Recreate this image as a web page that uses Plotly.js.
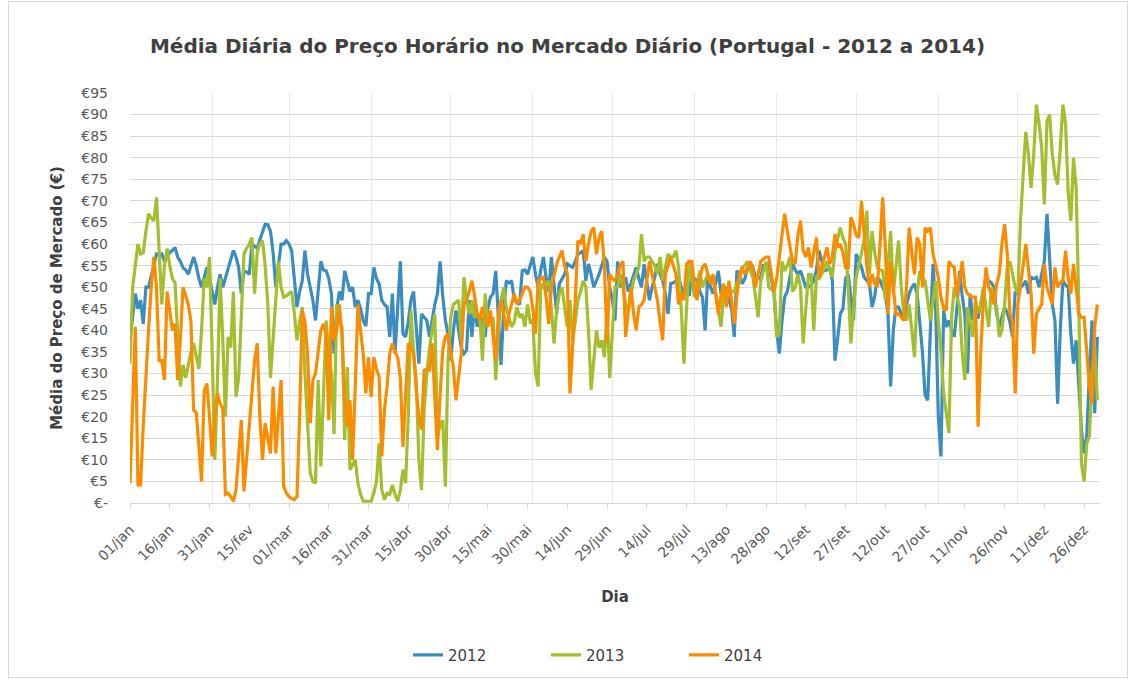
<!DOCTYPE html>
<html><head><meta charset="utf-8">
<script src="https://cdn.plot.ly/plotly-3.0.1.min.js"></script>
<style>
html,body{margin:0;padding:0;background:#fff;}
#wrap{position:relative;width:1135px;height:683px;}
#chart{position:absolute;left:0;top:0;width:1135px;height:683px;}
#frame{position:absolute;left:8px;top:1px;width:1118px;height:675px;border:1px solid #d9d9d9;pointer-events:none;}
</style></head>
<body><div id="wrap"><div id="chart"></div><div id="frame"></div></div>
<script>
const tickLabels = ["01/jan","16/jan","31/jan","15/fev","01/mar","16/mar","31/mar","15/abr","30/abr","15/mai","30/mai","14/jun","29/jun","14/jul","29/jul","13/ago","28/ago","12/set","27/set","12/out","27/out","11/nov","26/nov","11/dez","26/dez"];
const tickDays = [0,15,30,45,60,75,90,105,120,135,150,165,180,195,210,225,240,255,270,285,300,315,330,345,360];
const monthStartDays = [0,31,60,91,121,152,182,213,244,274,305,335];
const yTicks = [0,5,10,15,20,25,30,35,40,45,50,55,60,65,70,75,80,85,90,95];
const yTickText = ["€-","€5","€10","€15","€20","€25","€30","€35","€40","€45","€50","€55","€60","€65","€70","€75","€80","€85","€90","€95"];

const p2012 = [
37.7,43,48.5,45,47,41.5,50,50,52.3,55,
57.7,57.5,57.7,56,57,58,58.5,59.2,57,56,
54.5,54,53,55,57,55,52,50,52,54.6,
52,49,46,50,53,50,52,54,56,58.5,
57,54.6,48.5,53.8,53.5,53,60,59.5,59,61,
63,64.6,64.5,63,58,50,55,60,60,60.8,
60,58.5,52,45.4,49,51.5,58.5,53,50,47,
42.3,50,56,54,53.8,52,48.5,34.6,45,49,
47,53.8,51,49,50,45.4,47,45,42.3,41,
48.5,48.5,54.6,52,50.8,47,46,45.4,38.5,48.5,
34.6,45,56,39.2,38.5,42,47,49,40,32.3,
43.8,43,42.3,38.5,42.3,46,48.5,56,48,42.3,
39.2,33,40,44.6,40,36,34.6,35.4,47,38.5,
46,40.8,43.8,42,38.5,45,47.7,48.5,53.8,42.3,
32,45,51.5,51,51.5,47,46.5,46,53.8,54,
53,55,57,53,50,54,57,52.3,49,57,
50,43.8,50.8,52,53,55.4,55,54.6,56,57.7,
58,58.5,51.5,55.4,53,50,51.5,53,55,57,
56,50,47,42.3,56,50,51,52.3,49,51,
53,54.6,52,50,55.4,51,47,50,52.3,55.4,
53,51.5,48.5,43.8,50.8,51,51.5,52.3,50,48.5,
50.8,48,53,52,51.5,49,47.7,40,53,50,
48.5,51,53.8,48.5,49,50,47,45,38.5,53.8,
53,50.8,52,54.6,54,54.6,52.3,52,52.3,55,
55,55.4,52,48.5,40,34.6,42,47.7,49,52,
55.4,54,53,53.8,52,50,50,50.5,51.5,54,
58.5,56,53.8,54,54.6,51.5,33,38,43.8,45,
52,53,47,42.3,57.7,56,54.6,52.3,51.5,50.8,
45.4,48,52.3,51.5,50,48.5,43.8,27,40,45.4,
45.4,44,42.3,46,48.5,50,50.8,48.5,42.3,35,
25,23.8,40,55.4,45,20,10.8,44.6,40.8,42.3,
40,38.5,45,53.8,48,43.8,30,48.5,42.3,43,
43,46,48.5,52.3,51.5,51,50,43.8,40.8,43,
45.4,44,42,38.5,49,48.5,50,50.5,51.5,48.5,
52.3,52,52.3,50,53,56,67,55,46,42.3,
23,40,51.5,50.5,50,39.2,32.3,37.7,26.2,17,
11.5,15.4,30,42.3,20.8,38.5];

const p2013 = [
32.3,50,55,60,57.7,58,63,67,66,65.4,
70.8,58,46,55,59,55,52,51,40,27,
32,29,32,35,37,34,31,40,52,50,
57,35,10,28.5,52,38,20,38.5,36,49,
24.6,29,42,57.7,59,60,61.5,48.5,58,60,
60.8,55,46,29,38,48,56,50,47.7,48,
48.5,49,44,37.7,42,45.4,30,19.2,7,5,
4.6,28.5,8.5,25,42.3,34.6,30,16,46,42,
40.8,14.6,31.5,7.7,9,10,4.6,2,0.4,0.4,
0.4,0.4,2.3,5,13.8,3,0.8,2.3,2,4.2,
2,0.4,3,7.7,4.6,20,44.6,35,28.5,10,
3,21.5,30,36,40,43.8,15.4,18,19.2,3.8,
33,43,46,46.5,47,37.7,52.3,47,43.8,47,
43,44,43,33,48.5,42.3,42.3,43,28.5,40,
47,50,45,43,40.8,42,45.4,43,43.8,40.8,
46,42,42.3,30,27,50.8,50,50.5,51.5,45,
37,45,48.5,50,45,40.8,47,37.7,42,47,
49,51.5,50,40,26.2,33,40,36,37.7,33.8,
45,29,40.8,50,50,53,50,46,44.6,48,
51.5,53,54.6,62.3,56,57,57,56,55,53,
57,51.5,55,57.7,57,57,58.5,54.6,45,32.3,
45.4,56,52,47.7,50,53.8,50,51.5,53,52,
51.5,48.5,45,40.8,48.5,49,50,49,49,51,
51.5,54.6,55,56,54,52.3,48,43,51.5,54,
56,50,49.5,49,38.5,39.2,56,53.8,55,57,
49,50,53,50,37,45,53,53,40,52.3,
52,53,54.6,56,54,52.3,58.5,61,63.8,61.5,
60,50,37,45,52.3,55,58,60.8,67.7,53,
63,58,54.6,54,53.8,47,55,63,48.5,55,
60.8,50,43.8,42.3,46,40,33.8,48.5,53.8,52,
51.5,47,42.3,47,51.5,42.3,35,25.4,20,16.2,
43,50,48,45.4,35,28.5,45.4,42,38.5,47,
44,46,50,45,40.8,50,47,45.4,38.5,40,
46,54.6,56,53,50,48.5,65.4,76,86,80.8,
73,80.8,92.3,88,82.3,69.2,88.5,90,80.8,76,
73.8,82,92.3,88,72,65.4,80,73,46,9.2,
5,13.8,15.4,30,36,23.8];

const p2014 = [
4.6,25,40.8,4.2,4.2,18,30.8,40,50,57,
50,33,33,28.5,49,45,40,41.5,28.5,38,
50,48,46,42,21.5,21,14,5,26,27.7,
20,10.8,20,25.4,23,22,2,2.3,1.5,0.4,
3,12,19.2,2.7,10,18.5,25,33,37,20,
10,18.5,15,11.5,27,11.5,20,28.5,3.8,2.3,
1.5,1,0.8,1.5,20,44.6,42,34.6,18.5,28.5,
30,35.4,40,41.5,39.2,19.2,45.4,37.7,40,46,
38.5,25,17.7,23.8,10,27,46,40,34.6,25.4,
33.8,24.6,33.8,31,29.2,10.8,21.5,27,34.6,37,
35,33.8,29.2,13,25,37,36,34.6,26.2,20,
17,30.8,31,30.8,37,25,12.3,25,35.4,38.5,
39.2,35,31.5,23.8,30,34.6,46,47,49,51.5,
48,43.8,42.3,45.4,43,40.8,44.6,38,33,43.8,
47,44,40,43.8,46,48.5,46,47,48.5,50,
50,49,45,39.2,51.5,52,52.3,47.7,41.5,50,
53,55.4,57,58.5,55,53,25.4,35,47,60.8,
60,62.3,56,60,63,63.8,57.7,61.5,63,55,
37,53,52,51.5,53,55,56,38.5,45,50,
44,40,45.4,46,47,52,56,53,50,47,
42,37.7,53,55,57,55,53,46,48.5,47,
55.4,56,56,50,47,52,54.6,55.4,53,50.8,
53,48,43.8,48,50.8,45.4,51.5,47,41.5,48,
53,54.6,53,54,56,54.6,50,53,56,56.5,
57,57,53,49,52,57,60.8,67,63,59.2,
56,55.4,62,65.4,58.5,57,59.2,54.6,58,61.5,
52.3,54.6,57,59.2,55.4,57,62.3,59.2,60,58,
54.6,54.6,66.2,64.6,62,61.5,70,61.5,55,50,
53,51,50,60,70.8,59.2,43.8,56,50,43.8,
43.8,43,42.3,50,63.8,58,53,61.5,60,50,
63.8,63,63.8,57.7,55,52.3,47.7,45,44.6,56,
55,54.6,47.7,52,56,50,48.5,48,47.7,47.7,
17.7,35,47,54.6,50,48.5,46,50.8,53,60,
64.6,57.7,43.8,42.3,25.4,46,50,55,60,54.6,
48.5,34.6,43.8,45,46,55.4,50,48,46,54.6,
50,51,51.5,58.5,52,48.5,55.4,50,43.8,43,
43,35,27,23,40.8,46];

const seriesNames = ["2012","2013","2014"];
const seriesData = [p2012, p2013, p2014];
const seriesColors = ["#3c8dbf","#a3bf2f","#fb8c00"];

const traces = seriesData.map((vals, k) => ({
  type: 'scatter', mode: 'lines', name: seriesNames[k],
  x: vals.map((v, i) => i), y: vals,
  line: {color: seriesColors[k], width: 3.2},
  hoverinfo: 'x+y'
}));
traces.push({type:'scatter', mode:'lines', x:[0], y:[null], xaxis:'x2', showlegend:false, hoverinfo:'skip'});

const font = "DejaVu Sans, Verdana, sans-serif";
const layout = {
  width: 1135, height: 683,
  paper_bgcolor: '#ffffff', plot_bgcolor: '#ffffff',
  margin: {l: 130, r: 35, t: 93, b: 178},
  showlegend: true,
  title: {text: 'Média Diária do Preço Horário no Mercado Diário (Portugal - 2012 a 2014)',
          font: {family: font, size: 20, color: '#404040', weight: 'bold'},
          x: 0.5, xanchor: 'center', y: 0.933, yanchor: 'middle'},
  xaxis: {
    range: [0, 366], tickmode: 'array', tickvals: tickDays, ticktext: tickLabels, automargin: false,
    tickangle: -45, tickfont: {family: font, size: 14, color: '#595959'},
    showgrid: false, zeroline: false, showline: true, linecolor: '#d9d9d9', linewidth: 1,
    ticks: 'outside', ticklen: 5, tickcolor: '#d9d9d9', ticklabelstandoff: 7,
    title: {text: 'Dia', font: {family: font, size: 15, color: '#404040', weight: 'bold'}, standoff: 23}
  },
  xaxis2: {
    overlaying: 'x', range: [0, 366], tickmode: 'array', tickvals: monthStartDays, automargin: false,
    showticklabels: false, showgrid: true, gridcolor: '#e8e8e8', gridwidth: 1, zeroline: false, showline: false
  },
  yaxis: {
    range: [0, 95], tickmode: 'array', tickvals: yTicks, ticktext: yTickText, automargin: false,
    tickfont: {family: font, size: 14, color: '#595959'},
    showgrid: true, gridcolor: '#d9d9d9', gridwidth: 1, zeroline: false, showline: false,
    ticks: '', ticklabelstandoff: 21,
    title: {text: 'Média do Preço de Mercado (€)', font: {family: font, size: 15, color: '#404040', weight: 'bold'}, standoff: 15}
  },
  legend: {orientation: 'h', x: 0.5, xanchor: 'center', y: -0.371, yanchor: 'middle',
           entrywidth: 93, entrywidthmode: 'pixels',
           font: {family: font, size: 15, color: '#404040'}, traceorder: 'normal'},
};
Plotly.newPlot('chart', traces, layout, {displayModeBar: false, staticPlot: true});
</script>
</body></html>
